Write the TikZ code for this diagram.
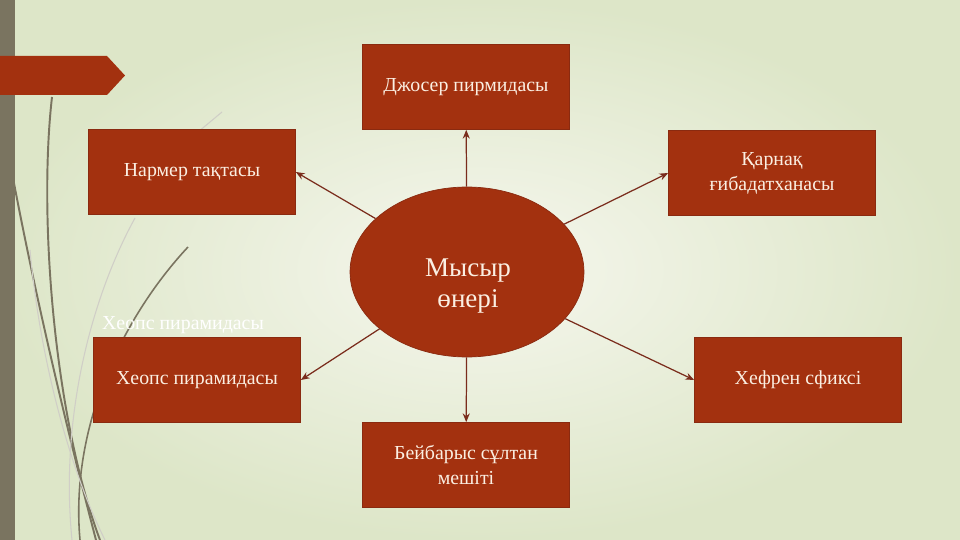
\documentclass[tikz,border=0pt]{standalone}
\usepackage{fontspec}
\setmainfont{Liberation Serif}
\usetikzlibrary{shapes.geometric,arrows.meta}

\definecolor{kirpich}{HTML}{A3310F}
\definecolor{kirpichdark}{HTML}{8A2A10}
\definecolor{strelka}{HTML}{7A2C1C}
\definecolor{olive}{HTML}{7A7460}
\definecolor{svetl}{HTML}{FBEFE2}
\definecolor{fonin}{HTML}{F6F7EE}
\definecolor{fonout}{HTML}{DDE6C8}

\tikzset{
    box/.style={draw=kirpichdark,fill=kirpich,minimum width=4.14cm,minimum height=1.7cm,
        text=svetl,align=center,font=\fontsize{11.3}{14.2}\selectfont},
    link/.style={draw=strelka,line width=0.7pt,-{Stealth[length=5pt,width=4pt]}},
    steblo/.style={draw=olive,line width=1.1pt},
    tenj/.style={draw=olive!35,line width=0.6pt}
}

\begin{document}
\begin{tikzpicture}[x=0.02cm,y=-0.02cm]
        \useasboundingbox (0,0) rectangle (960,540);

        % фон
        \shade[inner color=fonin,outer color=fonout] (0,0) rectangle (960,540);
        \fill[olive] (0,0) rectangle (15,540);
        \fill[kirpich] (0,56) -- (107,56) -- (125,75.5) -- (107,95) -- (0,95) -- cycle;

        % стебли
        \draw[steblo] (52,97) .. controls (38,220) and (55,420) .. (100,540);
        \draw[steblo] (13,178) .. controls (40,320) and (75,460) .. (96,540);
        \draw[steblo,line width=0.9pt] (188,247) .. controls (120,320) and (70,430) .. (80,540);
        \draw[tenj] (222,112) -- (198,132);
        \draw[tenj] (135,218) .. controls (90,300) and (60,420) .. (72,540);
        \draw[tenj] (30,250) .. controls (40,360) and (70,470) .. (105,540);

        % призрачная надпись
        \node[text=white,font=\fontsize{11.3}{14.2}\selectfont] (ghost) at (183,325) {Хеопс пирамидасы};

        % центр
        \node[ellipse,draw=kirpichdark,fill=kirpich,minimum width=4.68cm,minimum height=3.4cm] (ell) at (467,272) {};
        \node[text=svetl,align=center,font=\fontsize{15.4}{18}\selectfont] (ellt) at (468,286) {Мысыр\\өнері};

        % блоки
        \node[box] (dzh) at (466,87) {Джосер пирмидасы};
        \node[box] (nar) at (192,172) {Нармер тақтасы};
        \node[box] (kar) at (772,173) {Қарнақ\\ғибадатханасы};
        \node[box] (heo) at (197,380) {Хеопс пирамидасы};
        \node[box] (hef) at (798,380) {Хефрен сфиксі};
        \node[box] (bei) at (466,465) {Бейбарыс сұлтан\\мешіті};

        % стрелки
        \draw[link] (ell) -- (dzh);
        \draw[link] (ell) -- (nar.east);
        \draw[link] (ell) -- (kar.west);
        \draw[link] (ell) -- (heo.east);
        \draw[link] (ell) -- (hef.west);
        \draw[link] (ell) -- (bei);
    \end{tikzpicture}
\end{document}
